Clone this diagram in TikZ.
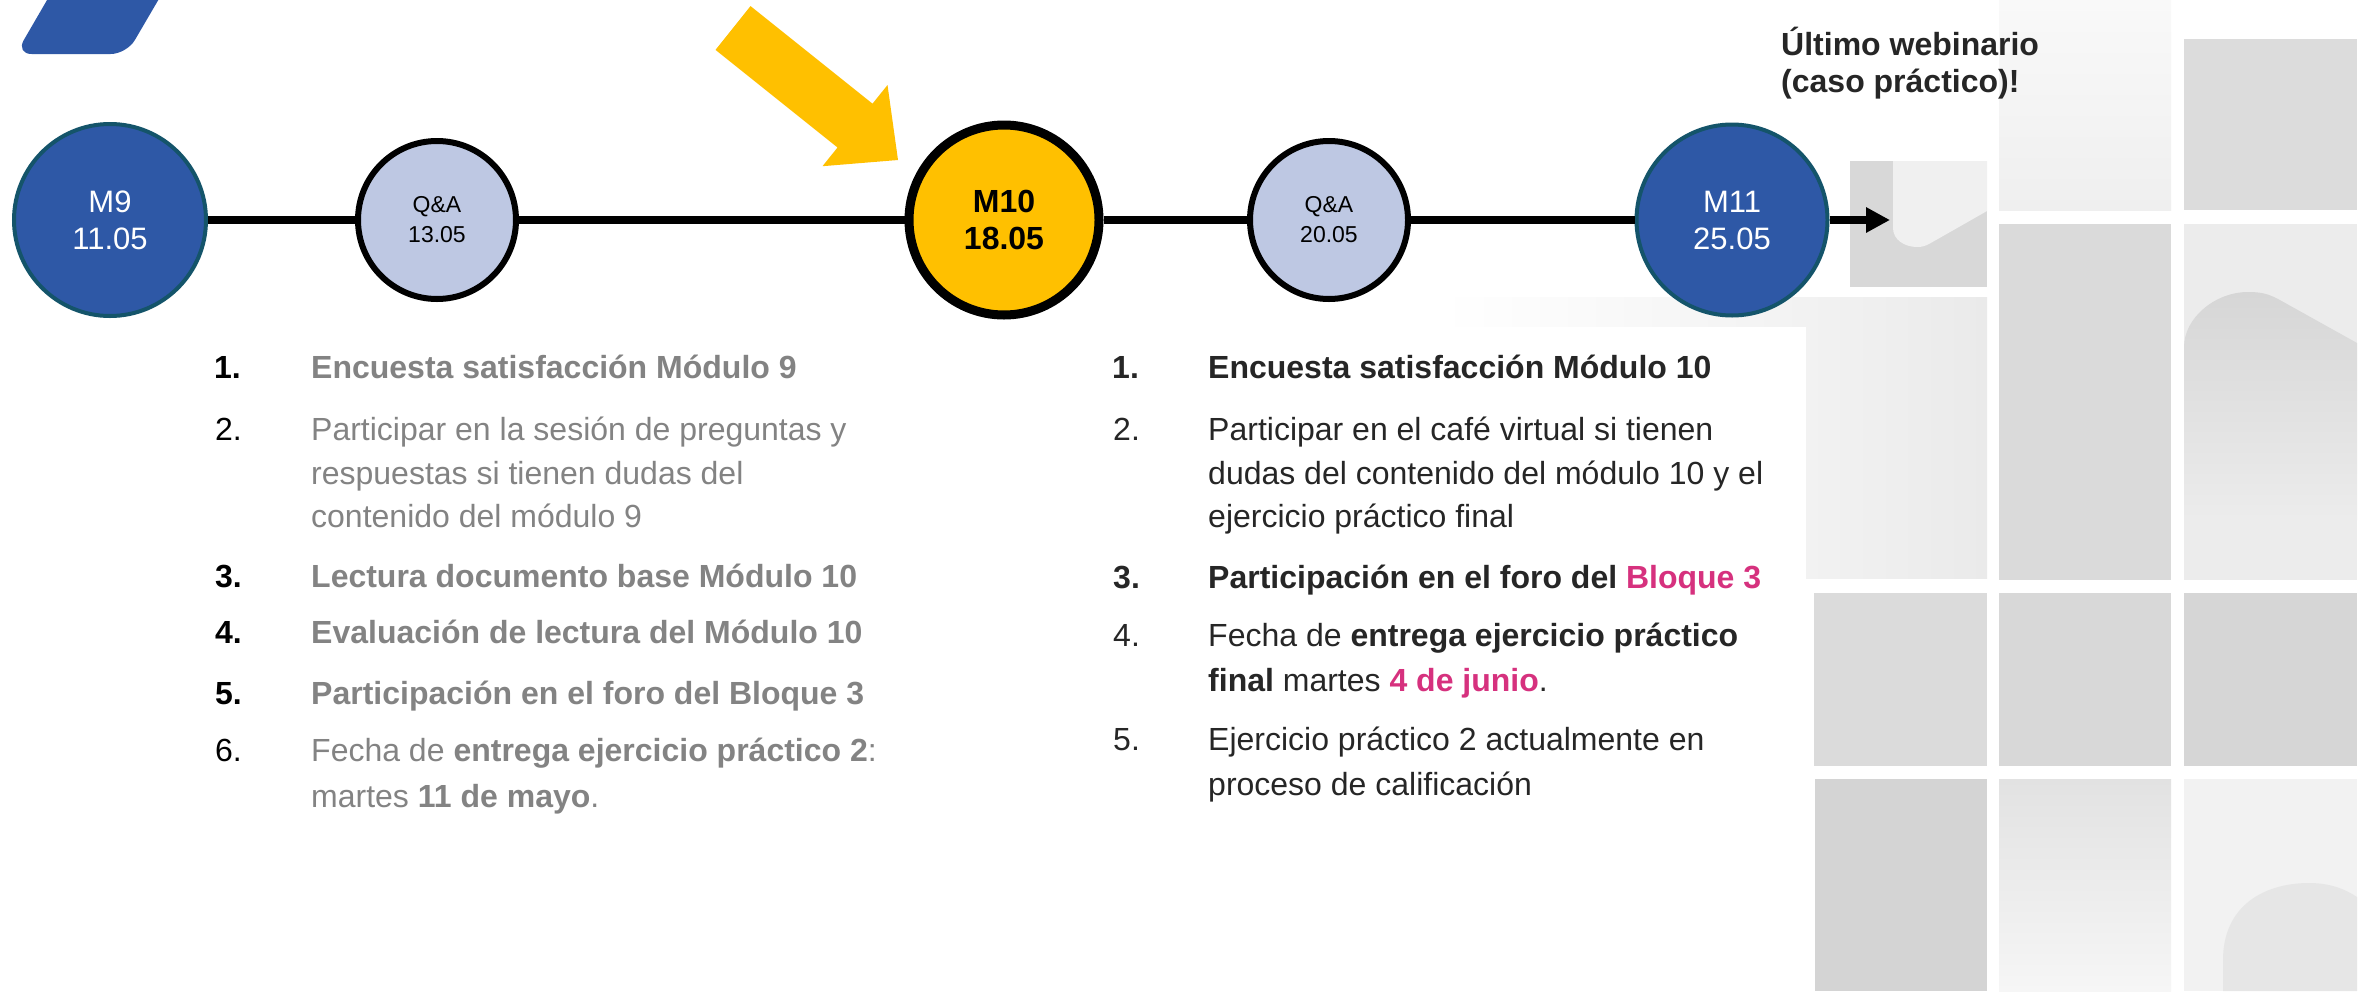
\documentclass[tikz,border=0pt]{standalone}
\usepackage{fontspec}
\setmainfont{Liberation Sans}
\usetikzlibrary{arrows.meta}
\definecolor{mblue}{HTML}{2E58A6}
\definecolor{mteal}{HTML}{14546A}
\definecolor{qafill}{HTML}{BEC8E3}
\definecolor{myellow}{HTML}{FFC000}
\definecolor{graytxt}{HTML}{838383}
\definecolor{darktxt}{HTML}{262626}
\definecolor{cpink}{HTML}{D6317E}
\definecolor{gD4}{HTML}{D4D4D4}
\definecolor{gD6}{HTML}{D6D6D6}
\definecolor{gD8}{HTML}{D8D8D8}
\definecolor{gDA}{HTML}{DADADA}
\definecolor{gDB}{HTML}{DBDBDB}
\definecolor{gDC}{HTML}{DCDCDC}
\definecolor{gE2}{HTML}{E2E2E2}
\definecolor{gE6}{HTML}{E6E6E6}
\definecolor{gEA}{HTML}{EAEAEA}
\definecolor{gEC}{HTML}{ECECEC}
\definecolor{gEF}{HTML}{EFEFEF}
\definecolor{gF0}{HTML}{F0F0F0}
\definecolor{gF2}{HTML}{F2F2F2}
\definecolor{gF6}{HTML}{F6F6F6}
\definecolor{gF9}{HTML}{F9F9F9}
\begin{document}
\begin{tikzpicture}[x=1pt,y=-1pt,
  mnode/.style={circle, fill=mblue, draw=mteal, line width=4pt, minimum size=192pt, inner sep=0pt, text=white, align=center, font=\fontsize{31}{37}\selectfont},
  qnode/.style={circle, fill=qafill, draw=black, line width=6pt, minimum size=158pt, inner sep=0pt, align=center, font=\fontsize{23}{30}\selectfont},
  cnode/.style={circle, fill=myellow, draw=black, line width=9pt, minimum size=190pt, inner sep=0pt, align=center, font=\bfseries\fontsize{32}{37}\selectfont},
  tline/.style={line width=8pt, draw=black},
  txt/.style={anchor=base west, inner sep=0pt, font=\fontsize{32}{43}\selectfont},
  ltxt/.style={txt, text=graytxt},
  rtxt/.style={txt, text=darktxt},
  numl/.style={txt, text=black},
  numr/.style={txt, text=darktxt}
]
\useasboundingbox (0,0) rectangle (2374,991);
\fill[white] (0,0) rectangle (2374,991);

% background tiles
\shade[top color=gF9, bottom color=gEF] (1999,0) rectangle (2171,210);
\fill[gDC] (2184,39) rectangle (2357,210);
\fill[gD8] (1850,161) rectangle (1987,287);
\fill[gF0] (1893,161) -- (1893,228) .. controls (1893,240) and (1905,247) .. (1917,247) .. controls (1922,247) and (1925,246) .. (1929,244) -- (1987,211) -- (1987,161) -- cycle;
\shade[left color=white, right color=gF2] (1441,297) rectangle (1806,326);
\shade[left color=gF2, right color=gEA] (1806,297) rectangle (1987,578);
\fill[gDA] (1999,224) rectangle (2171,580);
\fill[gEC] (2184,224) rectangle (2357,580);
\shade[top color=gD6, bottom color=gEC] (2184,520) -- (2184,347) .. controls (2184,318) and (2215,292) .. (2248,292) .. controls (2262,292) and (2268,294) .. (2278,299) -- (2357,343) -- (2357,520) -- cycle;
\fill[gDB] (1814,593) rectangle (1987,766);
\fill[gD8] (1999,593) rectangle (2171,766);
\fill[gD6] (2184,593) rectangle (2357,766);
\fill[gD4] (1815,779) rectangle (1987,991);
\shade[top color=gE2, bottom color=gF6] (1999,779) rectangle (2171,991);
\fill[gF2] (2184,779) rectangle (2357,991);
\fill[gE6] (2223,991) -- (2223,960) .. controls (2223,905) and (2265,883) .. (2309,883) .. controls (2330,883) and (2345,889) .. (2357,897) -- (2357,991) -- cycle;

% blue corner shape
\fill[mblue, rounded corners=16pt] (58.7,-20) -- (170,-20) -- (126.7,54) -- (15.7,54) -- cycle;

% yellow arrow
\fill[myellow] (715.5,49.9) -- (750.5,6.1) -- (872.5,103.7) -- (887.5,85) -- (898,160) -- (822.5,166.2) -- (837.5,147.5) -- cycle;

% timeline nodes
\node[mnode] (m9) at (110,220) {M9\\11.05};
\node[qnode] (q1) at (437,220) {Q\&A\\13.05};
\node[cnode] (m10) at (1004,220) {M10\\18.05};
\node[qnode] (q2) at (1329,220) {Q\&A\\20.05};
\node[mnode, minimum size=191pt] (m11) at (1732,220) {M11\\25.05};
\coordinate (aend) at (1890,220);

\draw[tline] (m9) -- (q1);
\draw[tline] (q1) -- (m10);
\draw[tline] (m10) -- (q2);
\draw[tline] (q2) -- (m11);
\draw[tline, -{Triangle[length=24pt,width=24pt]}] (m11) -- (aend);

% last webinar note
\node[txt, text=darktxt, font=\bfseries\fontsize{32}{37}\selectfont] (uw1) at (1781,55) {Último webinario};
\node[txt, text=darktxt, font=\bfseries\fontsize{32}{37}\selectfont] (uw2) at (1781,92) {(caso práctico)!};

% left list
\node[numl, font=\bfseries\fontsize{32}{43}\selectfont] (ln1) at (214,378) {1.};
\node[ltxt, font=\bfseries\fontsize{32}{43}\selectfont] (lt1) at (311,378) {Encuesta satisfacción Módulo 9};
\node[numl] (ln2) at (215,440) {2.};
\node[ltxt] (lt2a) at (311,440) {Participar en la sesión de preguntas y};
\node[ltxt] (lt2b) at (311,484) {respuestas si tienen dudas del};
\node[ltxt] (lt2c) at (311,527) {contenido del módulo 9};
\node[numl, font=\bfseries\fontsize{32}{43}\selectfont] (ln3) at (215,587) {3.};
\node[ltxt, font=\bfseries\fontsize{32}{43}\selectfont] (lt3) at (311,587) {Lectura documento base Módulo 10};
\node[numl, font=\bfseries\fontsize{32}{43}\selectfont] (ln4) at (215,643) {4.};
\node[ltxt, font=\bfseries\fontsize{32}{43}\selectfont] (lt4) at (311,643) {Evaluación de lectura del Módulo 10};
\node[numl, font=\bfseries\fontsize{32}{43}\selectfont] (ln5) at (215,704) {5.};
\node[ltxt, font=\bfseries\fontsize{32}{43}\selectfont] (lt5) at (311,704) {Participación en el foro del Bloque 3};
\node[numl] (ln6) at (215,761) {6.};
\node[ltxt] (lt6a) at (311,761) {Fecha de \textbf{entrega ejercicio práctico 2}:};
\node[ltxt] (lt6b) at (311,807) {martes \textbf{11 de mayo}.};

% right list
\node[numr, font=\bfseries\fontsize{32}{43}\selectfont] (rn1) at (1112,378) {1.};
\node[rtxt, font=\bfseries\fontsize{32}{43}\selectfont] (rt1) at (1208,378) {Encuesta satisfacción Módulo 10};
\node[numr] (rn2) at (1113,440) {2.};
\node[rtxt] (rt2a) at (1208,440) {Participar en el café virtual si tienen};
\node[rtxt] (rt2b) at (1208,484) {dudas del contenido del módulo 10 y el};
\node[rtxt] (rt2c) at (1208,527) {ejercicio práctico final};
\node[numr, font=\bfseries\fontsize{32}{43}\selectfont] (rn3) at (1113,588) {3.};
\node[rtxt, font=\bfseries\fontsize{32}{43}\selectfont] (rt3) at (1208,588) {Participación en el foro del \textcolor{cpink}{Bloque 3}};
\node[numr] (rn4) at (1113,646) {4.};
\node[rtxt] (rt4a) at (1208,646) {Fecha de \textbf{entrega ejercicio práctico}};
\node[rtxt] (rt4b) at (1208,691) {\textbf{final} martes \textbf{\textcolor{cpink}{4 de junio}}.};
\node[numr] (rn5) at (1113,750) {5.};
\node[rtxt] (rt5a) at (1208,750) {Ejercicio práctico 2 actualmente en};
\node[rtxt] (rt5b) at (1208,795) {proceso de calificación};
\end{tikzpicture}
\end{document}
